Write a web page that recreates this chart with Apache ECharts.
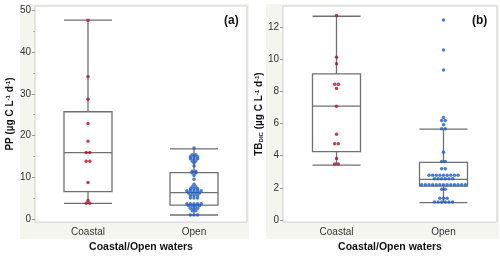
<!DOCTYPE html>
<html><head><meta charset="utf-8">
<script src="https://cdn.jsdelivr.net/npm/echarts@6/dist/echarts.min.js"></script>
<style>html,body{margin:0;padding:0;background:#fff}#c{width:500px;height:258px}</style>
</head><body><div id="c"></div>
<script>
const categories = ['Coastal', 'Open'];
const ppCoastal = [47.7, 34.1, 28.7, 22.9, 18.6, 15.9, 15.9, 13.8, 13.8, 8.7, 4.4, 3.7, 3.7];
const ppOpen = [17.0, 15.4, 15.4, 14.9, 14.9, 14.9, 14.4, 14.4, 14.4, 13.9, 13.9, 13.4, 12.7,
  11.4, 11.4, 11.0, 11.0, 10.4, 9.5, 8.3, 7.7, 7.7, 7.2, 7.2, 7.2,
  6.7, 6.7, 6.7, 6.7, 6.7, 6.2, 6.2, 6.2, 6.2, 5.6, 5.6, 5.6, 5.0, 5.0, 5.0,
  3.6, 3.6, 3.6, 3.6, 3.6, 3.1, 3.1, 3.1, 3.1, 2.5, 2.5, 2.5, 1.9, 1.9, 0.9, 0.9, 0.9];
// [low whisker, Q1, median, Q3, high whisker]
const ppBoxCoastal = [3.7, 6.5, 15.9, 25.7, 47.7];
const ppBoxOpen = [0.9, 3.3, 6.3, 11.1, 16.8];

const tbCoastal = [12.75, 10.14, 9.74, 8.46, 8.46, 8.2, 7.09, 5.34, 4.74, 4.74, 3.82, 3.48, 3.48];
const tbOpen = [12.47, 10.6, 9.34, 6.39, 6.2, 6.2, 5.93, 5.69, 5.69, 4.22, 3.64, 3.64, 3.19, 3.19,
  2.79, 2.79, 2.79, 2.79, 2.79, 2.79, 2.79, 2.79, 2.79,
  2.57, 2.57, 2.57, 2.57, 2.57, 2.57,
  2.19, 2.19, 2.19, 2.19, 2.19, 2.19, 2.19, 2.19, 2.19, 2.19, 2.19, 2.19, 2.19,
  1.91, 1.91, 1.35, 1.35, 1.35, 1.11, 1.11, 1.11, 1.11, 1.11, 1.11];
const tbBoxCoastal = [3.42, 4.26, 7.09, 9.1, 12.7];
const tbBoxOpen = [1.07, 2.11, 2.53, 3.58, 5.66];

const ppTicks = [0, 10, 20, 30, 40, 50];
const ppMinorTicks = [5, 15, 25, 35, 45];
const tbTicks = [0, 2, 4, 6, 8, 10, 12];

const RED = '#b0102c', BLUE = '#1a5cc8', BOXC = '#707070', BEIGE = '#f5f5f0';

function swarm(vals, center, spacing) {
  const groups = new Map();
  vals.forEach(v => groups.set(v, (groups.get(v) || 0) + 1));
  const res = [];
  groups.forEach((n, v) => { for (let i = 0; i < n; i++) res.push([center + (i - (n - 1) / 2) * spacing, v]); });
  return res;
}

const chart = echarts.init(document.getElementById('c'), null, {renderer: 'canvas'});
const font = 'Liberation Sans, Arial, sans-serif';
const grids = [
  {left: 35, top: 6, width: 212, height: 224},
  {left: 283, top: 6, width: 214, height: 224}
];
function yAx(gi, min, max, ticks, name, offsetName) {
  return {
    type: 'value', gridIndex: gi, min: min, max: max, position: 'left',
    axisLine: {show: false}, splitLine: {show: false},
    axisTick: {show: true, length: 3, customValues: ticks, lineStyle: {color: '#999'}},
    axisLabel: {customValues: ticks, color: '#333', fontSize: 10, fontFamily: font, margin: 4},
    name: name, nameLocation: 'middle', nameGap: offsetName,
    nameTextStyle: {fontWeight: 'bold', fontSize: 10, fontFamily: font, color: '#111',
      rich: {
        b: {fontWeight: 'bold', fontSize: 10, fontFamily: font, color: '#111'},
        sup: {fontWeight: 'bold', fontSize: 6, fontFamily: font, color: '#111', verticalAlign: 'top', lineHeight: 10},
        sub: {fontWeight: 'bold', fontSize: 6, fontFamily: font, color: '#111', verticalAlign: 'bottom', lineHeight: 10}
      }}
  };
}
function xCat(gi) {
  return {
    type: 'category', gridIndex: gi, data: categories,
    axisLine: {show: false}, axisTick: {show: false}, splitLine: {show: false},
    axisLabel: {color: '#333', fontSize: 10, fontFamily: font, margin: 5},
    name: 'Coastal/Open waters', nameLocation: 'middle', nameGap: 17,
    nameTextStyle: {fontWeight: 'bold', fontSize: 10.5, fontFamily: font, color: '#111'}
  };
}
function xVal(gi) {
  return {type: 'value', gridIndex: gi, min: 0, max: 2, show: false};
}
const boxStyle = {color: 'transparent', borderColor: BOXC, borderWidth: 1.3};

chart.setOption({
  animation: false,
  graphic: [
    {type: 'rect', shape: {x: 20, y: 4, width: 229, height: 235}, style: {fill: BEIGE}, z: -10},
    {type: 'rect', shape: {x: 266, y: 4, width: 233, height: 235}, style: {fill: BEIGE}, z: -10},
    {type: 'text', left: 224, top: 15, style: {text: '(a)', font: 'bold 12px ' + font, fill: '#111'}, z: 10},
    {type: 'text', left: 472, top: 15, style: {text: '(b)', font: 'bold 12px ' + font, fill: '#111'}, z: 10}
  ],
  grid: grids.map(g => Object.assign({show: true, backgroundColor: '#fff', borderColor: '#cfcfcf', borderWidth: 1}, g)),
  xAxis: [xCat(0), xCat(1), xVal(0), xVal(1)],
  yAxis: [
    yAx(0, -0.8, 51.1, ppTicks, '{b|PP (µg C L}{sup|-1}{b| d}{sup|-1}{b|)}', 20),
    yAx(1, -0.14, 13.34, tbTicks, '{b|TB}{sub|DIC}{b| (µg C L}{sup|-1}{b| d}{sup|-1}{b|)}', 19),
    {type: 'value', gridIndex: 0, min: -0.8, max: 51.1, position: 'left', axisLine: {show: false}, splitLine: {show: false},
      axisLabel: {show: false}, axisTick: {show: true, length: 2, customValues: ppMinorTicks, lineStyle: {color: '#aaa'}}}
  ],
  series: [
    {type: 'boxplot', xAxisIndex: 0, yAxisIndex: 0, boxWidth: [48, 48], itemStyle: boxStyle,
      data: [ppBoxCoastal, ppBoxOpen]},
    {type: 'boxplot', xAxisIndex: 1, yAxisIndex: 1, boxWidth: [48, 48], itemStyle: boxStyle,
      data: [tbBoxCoastal, tbBoxOpen]},
    {type: 'scatter', xAxisIndex: 2, yAxisIndex: 0, symbolSize: 3.5, itemStyle: {color: RED}, z: 5,
      data: swarm(ppCoastal, 0.5, 0.034)},
    {type: 'scatter', xAxisIndex: 2, yAxisIndex: 0, symbolSize: 3.5, itemStyle: {color: BLUE}, z: 5,
      data: swarm(ppOpen, 1.5, 0.034)},
    {type: 'scatter', xAxisIndex: 3, yAxisIndex: 1, symbolSize: 3.5, itemStyle: {color: RED}, z: 5,
      data: swarm(tbCoastal, 0.5, 0.034)},
    {type: 'scatter', xAxisIndex: 3, yAxisIndex: 1, symbolSize: 3.5, itemStyle: {color: BLUE}, z: 5,
      data: swarm(tbOpen, 1.5, 0.034)}
  ]
});
</script></body></html>
